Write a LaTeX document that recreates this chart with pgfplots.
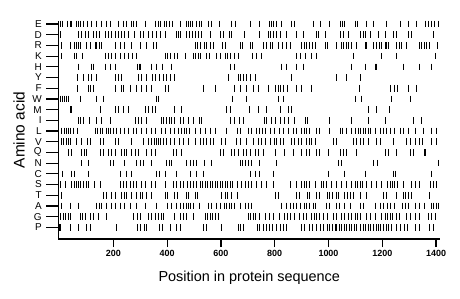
\documentclass[border=0pt]{standalone}
\usepackage{fontspec}
\setmainfont{Liberation Sans}
\usepackage{pgfplots}
\pgfplotsset{compat=1.18}
\begin{document}
\begin{tikzpicture}
\path[use as bounding box] (-58.5bp,-60bp) rectangle (401.5bp,239bp);
\begin{axis}[
  at={(0,0)}, anchor=south west,
  scale only axis, width=381.6bp, height=218bp,
  xmin=-4, xmax=1415, ymin=-1.09, ymax=19.28,
  axis x line*=bottom, axis y line*=left,
  axis line style={line width=1.2bp, -},
  xtick={200,400,...,1400}, ytick={0,...,19},
  yticklabels={P,G,A,T,S,C,N,Q,V,L,I,M,W,F,Y,H,K,R,D,E},
  tick align=outside, tick style={line width=1.2bp, black},
  xtick style={/pgfplots/major tick length=8bp},
  ytick style={/pgfplots/major tick length=12bp},
  xticklabel style={font=\fontsize{9}{9}\selectfont\bfseries, yshift=-3bp},
  yticklabel style={font=\fontsize{10}{10}\selectfont, xshift=-9bp},
  /pgf/number format/assume math mode=true,
  /pgf/number format/1000 sep={},
  xlabel={Position in protein sequence},
  ylabel={Amino acid},
  xlabel style={at={(axis description cs:0.5,-0.178)}, anchor=center, font=\fontsize{14.5}{14.5}\selectfont},
  ylabel style={at={(axis description cs:-0.1035,0.5)}, anchor=center, font=\fontsize{15.5}{15.5}\selectfont},
  clip=false,
  bars/.style={only marks, mark=|, mark size=3.3bp, mark options={line width=0.9bp, black}},
]
% E
\addplot[bars] coordinates {(2,19)(12,19)(30,19)(39,19)(45,19)(61,19)(70,19)(79,19)(88,19)(103,19)(120,19)(138,19)(157,19)(173,19)(188,19)(219,19)(237,19)(250,19)(268,19)(274,19)(287,19)(318,19)(355,19)(367,19)(376,19)(389,19)(398,19)(407,19)(421,19)(448,19)(473,19)(479,19)(488,19)(495,19)(510,19)(520,19)(528,19)(553,19)(563,19)(594,19)(638,19)(653,19)(708,19)(745,19)(780,19)(789,19)(797,19)(807,19)(826,19)(863,19)(872,19)(943,19)(971,19)(1003,19)(1043,19)(1053,19)(1061,19)(1099,19)(1107,19)(1142,19)(1169,19)(1214,19)(1269,19)(1297,19)(1326,19)(1359,19)(1371,19)(1381,19)(1394,19)(1408,19)};
% D
\addplot[bars] coordinates {(2,18)(70,18)(82,18)(95,18)(107,18)(126,18)(138,18)(150,18)(169,18)(181,18)(194,18)(206,18)(219,18)(231,18)(243,18)(256,18)(280,18)(299,18)(312,18)(330,18)(346,18)(359,18)(374,18)(392,18)(433,18)(442,18)(448,18)(473,18)(483,18)(495,18)(504,18)(516,18)(529,18)(560,18)(597,18)(609,18)(631,18)(640,18)(686,18)(745,18)(776,18)(785,18)(795,18)(807,18)(820,18)(842,18)(882,18)(906,18)(954,18)(962,18)(987,18)(1045,18)(1055,18)(1074,18)(1120,18)(1129,18)(1139,18)(1157,18)(1185,18)(1210,18)(1241,18)(1254,18)(1297,18)(1309,18)(1390,18)};
% R
\addplot[bars] coordinates {(6,17)(39,17)(54,17)(61,17)(70,17)(79,17)(101,17)(113,17)(132,17)(138,17)(148,17)(157,17)(206,17)(225,17)(243,17)(268,17)(299,17)(324,17)(349,17)(361,17)(504,17)(512,17)(522,17)(537,17)(547,17)(560,17)(572,17)(607,17)(615,17)(671,17)(681,17)(708,17)(718,17)(758,17)(770,17)(783,17)(793,17)(813,17)(830,17)(845,17)(857,17)(900,17)(909,17)(919,17)(929,17)(941,17)(950,17)(987,17)(996,17)(1028,17)(1049,17)(1055,17)(1065,17)(1074,17)(1086,17)(1105,17)(1136,17)(1142,17)(1167,17)(1177,17)(1189,17)(1198,17)(1210,17)(1217,17)(1223,17)(1254,17)(1263,17)(1272,17)(1291,17)(1338,17)(1346,17)(1355,17)(1365,17)(1375,17)(1405,17)};
% K
\addplot[bars] coordinates {(8,16)(54,16)(64,16)(86,16)(169,16)(181,16)(194,16)(206,16)(225,16)(240,16)(256,16)(272,16)(287,16)(392,16)(401,16)(413,16)(429,16)(438,16)(467,16)(497,16)(507,16)(516,16)(524,16)(545,16)(557,16)(582,16)(597,16)(615,16)(624,16)(636,16)(652,16)(665,16)(718,16)(733,16)(752,16)(882,16)(897,16)(916,16)(938,16)(956,16)(1092,16)(1198,16)(1254,16)(1396,16)};
% H
\addplot[bars] coordinates {(71,15)(120,15)(125,15)(169,15)(188,15)(206,15)(290,15)(296,15)(302,15)(343,15)(361,15)(384,15)(417,15)(634,15)(652,15)(826,15)(845,15)(882,15)(906,15)(1086,15)(1136,15)(1173,15)(1179,15)(1278,15)(1340,15)(1384,15)};
% Y
\addplot[bars] coordinates {(66,14)(88,14)(107,14)(120,14)(138,14)(206,14)(219,14)(231,14)(293,14)(305,14)(324,14)(346,14)(355,14)(370,14)(386,14)(399,14)(411,14)(429,14)(628,14)(665,14)(671,14)(683,14)(696,14)(708,14)(730,14)(863,14)(1028,14)(1065,14)(1120,14)};
% F
\addplot[bars] coordinates {(66,13)(107,13)(116,13)(126,13)(206,13)(231,13)(237,13)(265,13)(287,13)(305,13)(324,13)(343,13)(392,13)(404,13)(535,13)(578,13)(652,13)(671,13)(696,13)(720,13)(739,13)(776,13)(801,13)(813,13)(822,13)(832,13)(847,13)(882,13)(900,13)(938,13)(1115,13)(1229,13)(1247,13)(1256,13)(1297,13)(1328,13)};
% W
\addplot[bars] coordinates {(2,12)(9,12)(17,12)(24,12)(33,12)(76,12)(138,12)(163,12)(359,12)(367,12)(644,12)(696,12)(813,12)(832,12)(1102,12)(1123,12)(1235,12)(1303,12)};
% M
\addplot[bars] coordinates {(39,11)(45,11)(151,11)(206,11)(219,11)(237,11)(256,11)(318,11)(330,11)(346,11)(355,11)(429,11)(454,11)(619,11)(634,11)(706,11)(739,11)(770,11)(820,11)(851,11)(863,11)(1148,11)(1177,11)(1226,11)};
% I
\addplot[bars] coordinates {(70,10)(76,10)(88,10)(111,10)(136,10)(157,10)(188,10)(281,10)(293,10)(305,10)(324,10)(380,10)(388,10)(398,10)(408,10)(417,10)(426,10)(448,10)(460,10)(479,10)(497,10)(520,10)(529,10)(636,10)(652,10)(668,10)(683,10)(760,10)(770,10)(789,10)(801,10)(820,10)(838,10)(851,10)(872,10)(913,10)(921,10)(1003,10)(1086,10)(1148,10)(1210,10)(1315,10)(1346,10)};
% L
\addplot[bars] coordinates {(8,9)(17,9)(24,9)(33,9)(42,9)(51,9)(66,9)(132,9)(141,9)(151,9)(161,9)(173,9)(181,9)(188,9)(200,9)(213,9)(225,9)(240,9)(256,9)(274,9)(287,9)(305,9)(324,9)(343,9)(355,9)(380,9)(392,9)(411,9)(429,9)(442,9)(454,9)(463,9)(473,9)(483,9)(504,9)(522,9)(541,9)(560,9)(578,9)(622,9)(661,9)(674,9)(702,9)(715,9)(731,9)(743,9)(756,9)(764,9)(783,9)(798,9)(817,9)(832,9)(851,9)(869,9)(882,9)(900,9)(909,9)(919,9)(929,9)(956,9)(968,9)(1003,9)(1043,9)(1053,9)(1068,9)(1086,9)(1099,9)(1111,9)(1117,9)(1130,9)(1139,9)(1148,9)(1157,9)(1173,9)(1192,9)(1204,9)(1217,9)(1229,9)(1247,9)(1266,9)(1278,9)(1297,9)(1322,9)(1353,9)(1384,9)(1400,9)};
% V
\addplot[bars] coordinates {(8,8)(14,8)(24,8)(33,8)(42,8)(61,8)(83,8)(103,8)(113,8)(151,8)(163,8)(206,8)(219,8)(268,8)(312,8)(330,8)(343,8)(351,8)(359,8)(367,8)(376,8)(386,8)(396,8)(411,8)(429,8)(445,8)(460,8)(479,8)(504,8)(522,8)(535,8)(547,8)(560,8)(572,8)(603,8)(615,8)(659,8)(671,8)(696,8)(720,8)(739,8)(752,8)(764,8)(783,8)(798,8)(808,8)(820,8)(832,8)(863,8)(875,8)(888,8)(900,8)(919,8)(929,8)(938,8)(950,8)(1018,8)(1030,8)(1092,8)(1105,8)(1117,8)(1129,8)(1148,8)(1177,8)(1192,8)(1241,8)(1291,8)(1303,8)(1322,8)(1338,8)(1350,8)(1384,8)(1402,8)};
% Q
\addplot[bars] coordinates {(33,7)(45,7)(83,7)(91,7)(101,7)(151,7)(163,7)(181,7)(194,7)(206,7)(231,7)(240,7)(250,7)(268,7)(281,7)(293,7)(324,7)(343,7)(355,7)(423,7)(433,7)(454,7)(597,7)(609,7)(640,7)(652,7)(665,7)(683,7)(696,7)(708,7)(727,7)(739,7)(758,7)(801,7)(838,7)(869,7)(900,7)(919,7)(931,7)(956,7)(968,7)(999,7)(1043,7)(1055,7)(1068,7)(1105,7)(1210,7)(1222,7)(1254,7)(1303,7)(1315,7)(1356,7)(1362,7)};
% N
\addplot[bars] coordinates {(83,6)(107,6)(188,6)(200,6)(243,6)(287,6)(299,6)(312,6)(343,6)(398,6)(408,6)(417,6)(470,6)(485,6)(497,6)(510,6)(537,6)(566,6)(671,6)(681,6)(690,6)(702,6)(715,6)(745,6)(807,6)(1036,6)(1049,6)(1167,6)(1181,6)(1408,6)};
% C
\addplot[bars] coordinates {(10,5)(43,5)(57,5)(107,5)(228,5)(250,5)(268,5)(361,5)(371,5)(392,5)(436,5)(485,5)(510,5)(535,5)(708,5)(727,5)(745,5)(795,5)(999,5)(1061,5)(1136,5)(1241,5)(1250,5)(1384,5)};
% S
\addplot[bars] coordinates {(2,4)(20,4)(45,4)(54,4)(61,4)(70,4)(79,4)(88,4)(99,4)(107,4)(128,4)(151,4)(225,4)(237,4)(250,4)(262,4)(274,4)(287,4)(305,4)(318,4)(343,4)(355,4)(392,4)(423,4)(436,4)(448,4)(460,4)(475,4)(485,4)(497,4)(510,4)(522,4)(532,4)(541,4)(549,4)(560,4)(570,4)(578,4)(587,4)(597,4)(607,4)(615,4)(624,4)(634,4)(644,4)(661,4)(677,4)(690,4)(702,4)(715,4)(733,4)(752,4)(770,4)(795,4)(857,4)(882,4)(900,4)(909,4)(919,4)(929,4)(950,4)(975,4)(983,4)(993,4)(1012,4)(1030,4)(1049,4)(1068,4)(1086,4)(1099,4)(1107,4)(1117,4)(1127,4)(1142,4)(1161,4)(1179,4)(1198,4)(1219,4)(1229,4)(1239,4)(1247,4)(1256,4)(1278,4)(1309,4)(1322,4)(1340,4)(1380,4)(1390,4)(1400,4)};
% T
\addplot[bars] coordinates {(8,3)(165,3)(175,3)(194,3)(206,3)(231,3)(240,3)(250,3)(268,3)(287,3)(299,3)(309,3)(324,3)(343,3)(392,3)(401,3)(429,3)(438,3)(470,3)(479,3)(504,3)(512,3)(603,3)(615,3)(624,3)(640,3)(661,3)(801,3)(813,3)(882,3)(891,3)(921,3)(931,3)(956,3)(968,3)(996,3)(1005,3)(1015,3)(1028,3)(1036,3)(1061,3)(1070,3)(1080,3)(1092,3)(1117,3)(1142,3)(1204,3)(1214,3)(1254,3)(1278,3)(1288,3)(1297,3)(1309,3)(1377,3)};
% A
\addplot[bars] coordinates {(8,2)(39,2)(70,2)(138,2)(148,2)(157,2)(173,2)(194,2)(206,2)(228,2)(240,2)(262,2)(287,2)(318,2)(359,2)(401,2)(417,2)(433,2)(448,2)(460,2)(470,2)(479,2)(488,2)(497,2)(520,2)(553,2)(566,2)(582,2)(597,2)(612,2)(622,2)(631,2)(640,2)(652,2)(671,2)(690,2)(702,2)(715,2)(826,2)(842,2)(857,2)(869,2)(882,2)(894,2)(909,2)(919,2)(929,2)(943,2)(953,2)(993,2)(1003,2)(1030,2)(1040,2)(1061,2)(1080,2)(1117,2)(1129,2)(1173,2)(1192,2)(1204,2)(1219,2)(1231,2)(1247,2)(1276,2)(1288,2)(1297,2)(1322,2)(1338,2)(1355,2)(1384,2)(1392,2)(1402,2)(1409,2)};
% G
\addplot[bars] coordinates {(4,1)(14,1)(23,1)(32,1)(42,1)(76,1)(86,1)(96,1)(113,1)(126,1)(144,1)(175,1)(274,1)(289,1)(299,1)(330,1)(343,1)(355,1)(367,1)(377,1)(386,1)(429,1)(448,1)(460,1)(473,1)(497,1)(541,1)(549,1)(560,1)(570,1)(579,1)(590,1)(702,1)(711,1)(720,1)(730,1)(745,1)(764,1)(780,1)(797,1)(817,1)(838,1)(847,1)(857,1)(875,1)(891,1)(906,1)(919,1)(938,1)(946,1)(956,1)(966,1)(983,1)(996,1)(1018,1)(1030,1)(1049,1)(1061,1)(1074,1)(1086,1)(1099,1)(1107,1)(1117,1)(1142,1)(1157,1)(1173,1)(1198,1)(1210,1)(1219,1)(1229,1)(1239,1)(1251,1)(1263,1)(1291,1)(1303,1)(1322,1)(1340,1)(1371,1)(1384,1)(1396,1)};
% P
\addplot[bars] coordinates {(0,0)(4,0)(39,0)(70,0)(99,0)(113,0)(213,0)(289,0)(302,0)(314,0)(324,0)(371,0)(384,0)(411,0)(433,0)(448,0)(535,0)(545,0)(603,0)(665,0)(674,0)(683,0)(735,0)(745,0)(758,0)(770,0)(780,0)(793,0)(805,0)(820,0)(832,0)(845,0)(900,0)(909,0)(929,0)(941,0)(956,0)(971,0)(983,0)(996,0)(1005,0)(1015,0)(1024,0)(1030,0)(1040,0)(1049,0)(1058,0)(1068,0)(1077,0)(1086,0)(1095,0)(1105,0)(1117,0)(1129,0)(1139,0)(1148,0)(1157,0)(1167,0)(1177,0)(1185,0)(1194,0)(1204,0)(1214,0)(1223,0)(1235,0)(1254,0)(1266,0)(1284,0)(1293,0)(1322,0)(1340,0)(1377,0)(1390,0)};
\end{axis}
\end{tikzpicture}
\end{document}
